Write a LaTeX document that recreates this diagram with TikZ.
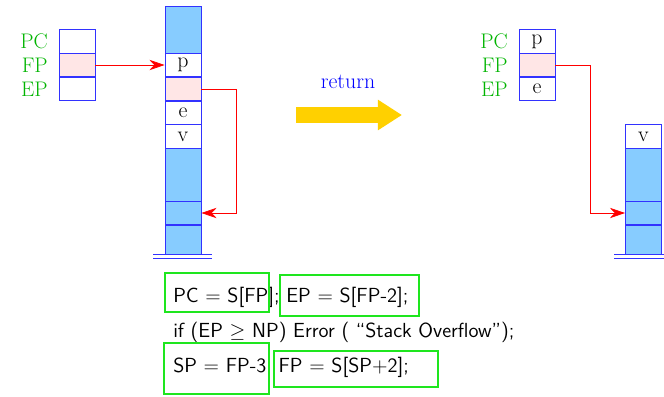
\documentclass[tikz,border=0pt]{standalone}
\usetikzlibrary{arrows.meta}
\definecolor{stackblue}{RGB}{135,204,255}
\definecolor{framepink}{RGB}{255,230,230}
\definecolor{reggreen}{RGB}{0,180,0}
\definecolor{hlgreen}{RGB}{30,230,30}
\definecolor{retyellow}{RGB}{255,208,0}
\definecolor{cellblue}{RGB}{50,50,255}
\begin{document}
\begin{tikzpicture}[
    x=0.025cm, y=-0.025cm,
    cell/.style={rectangle, draw=cellblue, line width=0.6pt, minimum width=0.9cm, minimum height=0.59cm, inner sep=0pt, font=\fontsize{15.5}{18}\selectfont},
    full/.style={cell, fill=stackblue},
    frame/.style={cell, fill=framepink},
    reg/.style={anchor=east, text=reggreen, inner sep=0pt, font=\fontsize{15}{18}\selectfont},
    ptr/.style={->, >={Stealth[length=0.38cm, width=0.26cm]}, red, line width=0.5pt},
    hl/.style={rectangle, draw=hlgreen, line width=1.4pt, inner sep=0pt},
    code/.style={anchor=base west, inner sep=0pt, font=\sffamily\fontsize{14.5}{17}\selectfont}
]
    \useasboundingbox (0,0) rectangle (664,396);

    % Registers before return
    \node[cell] (lpc) at (77,41.5) {};
    \node[frame] (lfp) at (77,65) {};
    \node[cell] (lep) at (77,89) {};
    \node[reg] at (48,41.5) {PC};
    \node[reg] at (48,65) {FP};
    \node[reg] at (48,89) {EP};

    % Stack before return
    \node[full, minimum height=1.175cm] (ltop) at (183,29.5) {};
    \node[cell] (lp) at (183,65) {p};
    \node[frame] (lold) at (183,89) {};
    \node[cell] (le) at (183,113) {e};
    \node[cell] (lv) at (183,136.5) {v};
    \node[full, minimum height=1.325cm] (lb1) at (183,174.5) {};
    \node[full] (lb2) at (183,213) {};
    \node[full, minimum height=0.725cm] (lb3) at (183,239.5) {};
    \draw[cellblue, line width=0.6pt] (153,254) -- (212,254) (153,258) -- (212,258);

    % Return arrow
    \node[text=blue, font=\fontsize{15.5}{18}\selectfont] (ret) at (348,82) {return};
    \draw[retyellow, line width=0.4cm, -{Triangle[length=0.6cm, width=0.72cm]}] (296,115) -- (402,115);

    % Registers after return
    \node[cell] (rpc) at (537,41.5) {p};
    \node[frame] (rfp) at (537,65) {};
    \node[cell] (rep) at (537,89) {e};
    \node[reg] at (508,41.5) {PC};
    \node[reg] at (508,65) {FP};
    \node[reg] at (508,89) {EP};

    % Stack after return
    \node[cell] (rv) at (643.5,136.5) {v};
    \node[full, minimum height=1.325cm] (rb1) at (643.5,174.5) {};
    \node[full] (rb2) at (643.5,213) {};
    \node[full, minimum height=0.725cm] (rb3) at (643.5,239.5) {};
    \draw[cellblue, line width=0.6pt] (614,254) -- (670,254) (614,258) -- (670,258);

    % Pointers
    \draw[ptr] (lfp.east) -- (lp.west);
    \draw[ptr] (lold.east) -- ++(35,0) |- (lb2.east);
    \draw[ptr] (rfp.east) -- ++(35,0) |- (rb2.west);

    % Code
    \node[code] (c1) at (173,302) {PC $=$ S[FP]; EP $=$ S[FP-2];};
    \node[code] (c2) at (173,337) {if (EP $\geq$ NP) Error ( ``Stack Overflow'');};
    \node[code] (c3) at (173,372) {SP $=$ FP-3; FP $=$ S[SP+2];};

    % Highlights
    \node[hl, minimum width=2.6cm, minimum height=0.975cm] (h1) at (217,292.5) {};
    \node[hl, minimum width=3.475cm, minimum height=1.025cm] (h2) at (349.5,295.5) {};
    \node[hl, minimum width=2.625cm, minimum height=1.275cm] (h3) at (216.5,368.5) {};
    \node[hl, minimum width=4.1cm, minimum height=0.9cm] (h4) at (356,369) {};
\end{tikzpicture}
\end{document}
